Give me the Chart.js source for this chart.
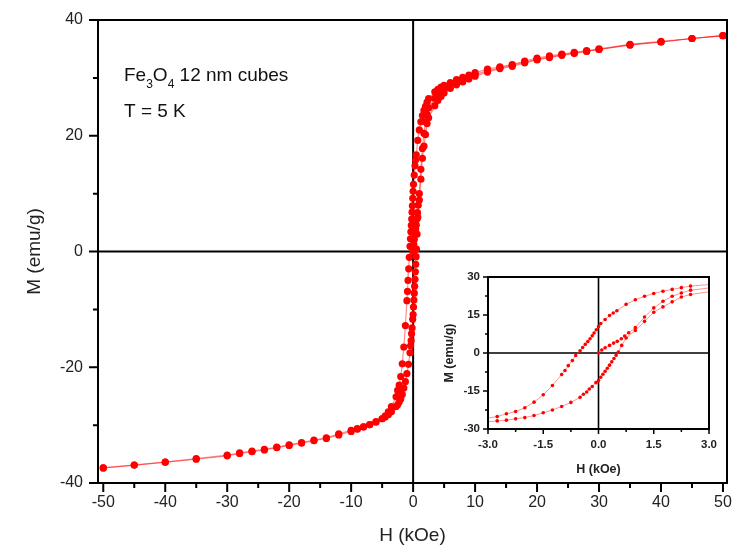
<!DOCTYPE html>
<html>
<head>
<meta charset="utf-8">
<script src="https://cdn.jsdelivr.net/npm/chart.js@4.4.1/dist/chart.umd.min.js"></script>
<style>
  body { margin: 0; background: #fff; }
  #wrap { position: relative; width: 741px; height: 556px; }
  #main { position: absolute; left: 0; top: 0; }
  #inset { position: absolute; left: 440px; top: 262px; }
</style>
</head>
<body>
<div id="wrap">
  <canvas id="main" width="741" height="556"></canvas>
  <canvas id="inset" width="282" height="218"></canvas>
</div>
<script>
// descending branch (from +50 kOe down to -50 kOe)
const hDesc = [50, 45, 40, 35, 30, 28, 26, 24, 22, 20, 18, 16, 14, 12, 10, 9, 8, 7, 6, 5,
  4.5, 4, 3.5, 2.5, 2.25, 2, 1.75, 1.5, 1.25, 1, 0.75, 0.5, 0.4, 0.3, 0.18, 0.06, 0, -0.06, -0.12, -0.17,
  -0.23, -0.29, -0.36, -0.43, -0.5, -0.62, -0.71, -0.82, -0.91, -1, -1.25, -1.5, -1.75, -2, -2.25,
  -2.5, -2.75, -3.5, -4, -4.5, -5, -6, -7, -8, -9, -10, -12, -14, -16, -18, -20, -22, -24, -26, -28,
  -30, -35, -40, -45, -50];
const mDesc = [37.3, 36.8, 36.3, 35.8, 35.0, 34.7, 34.4, 34.1, 33.8, 33.4, 32.9, 32.3, 31.9, 31.5, 30.9,
  30.5, 30.1, 29.7, 29.2, 28.7, 28.4, 28.0, 27.6, 26.4, 25.8, 25.1, 24.4, 23.5, 22.4, 21.0, 19.2, 16.7,
  15.8, 14.8, 13.2, 11.6, 10.4, 9.2, 7.9, 6.8, 5.6, 4.5, 3.4, 2.2, 0.9, -1.0, -3.0, -5.0, -6.9, -8.5,
  -12.8, -16.5, -19.4, -21.6, -23.1, -24.0, -25.1, -26.8, -27.7, -28.4, -28.9, -29.5, -29.9, -30.3,
  -30.6, -30.9, -31.5, -32.2, -32.6, -33.0, -33.4, -33.8, -34.2, -34.5, -34.8, -35.2, -35.8, -36.4,
  -36.9, -37.4];

// ascending branch (from -50 kOe up to +50 kOe)
const hAsc = [-50, -45, -40, -35, -30, -28, -26, -24, -22, -20, -18, -16, -14, -12, -10, -9, -8, -7, -6,
  -5, -4.5, -4, -3.5, -2.75, -2.5, -2.25, -2, -1.75, -1.5, -1.25, -1, -0.75, -0.5, -0.41, -0.32, -0.25,
  -0.17, -0.07, 0, 0.06, 0.12, 0.18, 0.24, 0.3, 0.36, 0.42, 0.48, 0.54, 0.63, 0.75, 1, 1.25, 1.5, 1.75,
  2, 2.25, 2.5, 3.5, 4, 4.5, 5, 6, 7, 8, 9, 10, 12, 14, 16, 18, 20, 22, 24, 26, 28, 30, 35, 40, 45, 50];
const mAsc = [-37.4, -36.9, -36.4, -35.9, -35.3, -34.9, -34.6, -34.3, -33.9, -33.5, -33.1, -32.7, -32.3,
  -31.7, -31.1, -30.7, -30.3, -29.9, -29.4, -28.9, -28.6, -28.2, -27.7, -26.8, -26.5, -26.0, -25.5,
  -24.7, -23.6, -22.5, -21.1, -19.5, -17.5, -16.3, -15.4, -14.2, -13.2, -11.7, -10.9, -9.6, -8.4, -7.2,
  -6.0, -4.8, -3.5, -2.2, -0.9, 0.4, 3.0, 5.9, 8.9, 12.5, 16.1, 18.2, 20.2, 22.1, 23.1, 25.2, 26.1,
  26.8, 27.4, 28.2, 28.8, 29.3, 29.8, 30.3, 31.0, 31.6, 32.0, 32.6, 33.1, 33.5, 33.9, 34.2, 34.6, 34.9,
  35.7, 36.2, 36.8, 37.3];

// initial (virgin) magnetization curve
const hVirgin = [0, 0.09, 0.18, 0.3, 0.41, 0.51, 0.62, 0.71, 0.82, 1, 1.25, 1.5, 1.75, 2, 2.25, 2.5,
  3.5, 4, 4.5, 5, 6, 7, 8, 9, 10, 12, 14, 16, 18, 20, 22, 24, 26, 28, 30, 35, 40, 45, 50];
const mVirgin = [0, 1.2, 2.1, 3.0, 3.9, 4.6, 5.6, 6.7, 8.0, 10.0, 14.2, 17.8, 20.4, 22.4, 23.7, 24.8,
  26.5, 27.1, 27.6, 28.0, 28.7, 29.2, 29.7, 30.1, 30.6, 31.2, 31.7, 32.2, 32.7, 33.2, 33.6, 34.0, 34.3,
  34.6, 34.9, 35.7, 36.2, 36.8, 37.3];

// tick labels
const mainXTicks = [-50, -40, -30, -20, -10, 0, 10, 20, 30, 40, 50];
const mainYTicks = [-40, -20, 0, 20, 40];
const insetXTicks = [-3, -1.5, 0, 1.5, 3];
const insetYTicks = [-30, -15, 0, 15, 30];

const pts = (hs, ms) => hs.map((h, i) => ({ x: h, y: ms[i] }));

const branches = [[hDesc, mDesc], [hAsc, mAsc], [hVirgin, mVirgin]];

const makeSets = (radius, lineColor, lineWidth) =>
  branches.map(([h, m]) => ({
    data: pts(h, m),
    showLine: true,
    borderColor: lineColor,
    borderWidth: lineWidth,
    pointRadius: radius,
    pointHoverRadius: radius,
    pointBackgroundColor: "#ff0000",
    pointBorderWidth: 0,
    tension: 0,
  }));

// box, zero lines and outward ticks
const frameTicks = {
  id: "frameTicks",
  beforeDatasetsDraw(chart, args, o) {
    const { ctx, chartArea: a, scales: { x, y } } = chart;
    ctx.save();
    if (o.fill) {
      ctx.fillStyle = "#fff";
      ctx.fillRect(a.left, a.top, a.right - a.left, a.bottom - a.top);
    }
    ctx.strokeStyle = "#000";
    ctx.lineWidth = o.zeroWidth;
    const x0 = x.getPixelForValue(0), y0 = y.getPixelForValue(0);
    ctx.beginPath();
    ctx.moveTo(x0, a.top); ctx.lineTo(x0, a.bottom);
    ctx.moveTo(a.left, y0); ctx.lineTo(a.right, y0);
    ctx.stroke();
    ctx.restore();
  },
  afterDraw(chart, args, o) {
    const { ctx, chartArea: a, scales: { x, y } } = chart;
    ctx.save();
    ctx.strokeStyle = "#000";
    ctx.lineWidth = o.tickWidth;
    ctx.beginPath();
    for (let k = 0; k <= o.xCount; k++) {
      const px = x.getPixelForValue(o.xFrom + k * o.xStep);
      const len = k % 2 === 0 ? o.major : o.minor;
      ctx.moveTo(px, a.bottom); ctx.lineTo(px, a.bottom + len);
    }
    for (let k = 0; k <= o.yCount; k++) {
      const py = y.getPixelForValue(o.yFrom + k * o.yStep);
      const len = k % 2 === 0 ? o.major : o.minor;
      ctx.moveTo(a.left, py); ctx.lineTo(a.left - len, py);
    }
    ctx.stroke();
    ctx.lineWidth = o.frameWidth;
    ctx.strokeRect(a.left, a.top, a.right - a.left, a.bottom - a.top);

    if (o.label) {
      ctx.fillStyle = "#111";
      ctx.textBaseline = "alphabetic";
      const big = "19px 'Liberation Sans', Arial, sans-serif";
      const small = "12px 'Liberation Sans', Arial, sans-serif";
      let cx = 124;
      const parts = [["Fe", big, 0], ["3", small, 7], ["O", big, 0], ["4", small, 7], [" 12 nm cubes", big, 0]];
      parts.forEach(([t, f, dy]) => {
        ctx.font = f;
        ctx.fillText(t, cx, 81 + dy);
        cx += ctx.measureText(t).width;
      });
      ctx.font = big;
      ctx.fillText("T = 5 K", 124, 117);
    }
    ctx.restore();
  },
};

const axisFont = (size, bold) => ({ family: "'Liberation Sans', Arial, sans-serif", size, weight: bold ? "bold" : "normal" });

// label overflow should not push the plot box around
const noPadX = (h) => (s) => { s.height = h; s.paddingLeft = 0; s.paddingRight = 0; };
const noPadY = (w) => (s) => { s.width = w; s.paddingTop = 0; s.paddingBottom = 0; };

new Chart(document.getElementById("main"), {
  type: "scatter",
  data: { datasets: makeSets(3.6, "rgba(255,0,0,0.45)", 1.2) },
  options: {
    responsive: false,
    animation: false,
    layout: { padding: { top: 20, right: 14, left: 0, bottom: 0 } },
    plugins: {
      legend: { display: false },
      tooltip: { enabled: false },
      frameTicks: {
        xFrom: -50, xStep: 5, xCount: 20, yFrom: -40, yStep: 10, yCount: 8,
        major: 9, minor: 5, tickWidth: 2, frameWidth: 2, zeroWidth: 2, fill: false, label: true,
      },
    },
    scales: {
      x: {
        type: "linear", min: -50.85, max: 50.65,
        grid: { display: false, drawTicks: false }, border: { display: false },
        afterBuildTicks: (s) => { s.ticks = mainXTicks.map((v) => ({ value: v })); },
        afterFit: noPadX(73),
        ticks: { color: "#222", font: axisFont(16), padding: 10, maxRotation: 0, autoSkip: false },
        title: { display: true, text: "H (kOe)", color: "#222", font: axisFont(19), padding: { bottom: 9 } },
      },
      y: {
        type: "linear", min: -40, max: 40,
        grid: { display: false, drawTicks: false }, border: { display: false },
        afterBuildTicks: (s) => { s.ticks = mainYTicks.map((v) => ({ value: v })); },
        afterFit: noPadY(98),
        ticks: { color: "#222", font: axisFont(16), padding: 15, autoSkip: false },
        title: { display: true, text: "M (emu/g)", color: "#222", font: axisFont(19), padding: { top: 23 } },
      },
    },
  },
  plugins: [frameTicks],
});

new Chart(document.getElementById("inset"), {
  type: "scatter",
  data: { datasets: makeSets(1.8, "rgba(255,60,60,0.55)", 1) },
  options: {
    responsive: false,
    animation: false,
    layout: { padding: { top: 15, right: 13, left: 0, bottom: 0 } },
    plugins: {
      legend: { display: false },
      tooltip: { enabled: false },
      frameTicks: {
        xFrom: -3, xStep: 0.75, xCount: 8, yFrom: -30, yStep: 7.5, yCount: 8,
        major: 5, minor: 3, tickWidth: 1.5, frameWidth: 2, zeroWidth: 1.6, fill: true, label: false,
      },
    },
    scales: {
      x: {
        type: "linear", min: -3, max: 3,
        grid: { display: false, drawTicks: false }, border: { display: false },
        afterBuildTicks: (s) => { s.ticks = insetXTicks.map((v) => ({ value: v })); },
        afterFit: noPadX(51),
        ticks: { color: "#222", font: axisFont(11.5, true), padding: 9, maxRotation: 0, autoSkip: false,
          callback: (v) => v.toFixed(1) },
        title: { display: true, text: "H (kOe)", color: "#222", font: axisFont(12.5, true), padding: { bottom: 3 } },
      },
      y: {
        type: "linear", min: -30, max: 30,
        grid: { display: false, drawTicks: false }, border: { display: false },
        afterBuildTicks: (s) => { s.ticks = insetYTicks.map((v) => ({ value: v })); },
        afterFit: noPadY(48),
        ticks: { color: "#222", font: axisFont(11.5, true), padding: 8, autoSkip: false },
        title: { display: true, text: "M (emu/g)", color: "#222", font: axisFont(12.5, true), padding: { top: 2 } },
      },
    },
  },
  plugins: [frameTicks],
});
</script>
</body>
</html>
